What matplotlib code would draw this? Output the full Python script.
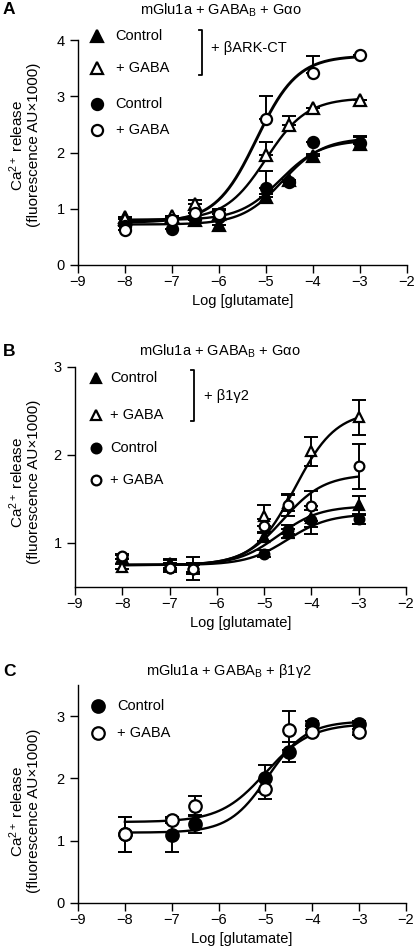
import numpy as np
import matplotlib
matplotlib.use('Agg')
import matplotlib.pyplot as plt

plt.rcParams['font.family'] = ['Liberation Sans', 'DejaVu Sans']
plt.rcParams['mathtext.fontset'] = 'custom'
plt.rcParams['mathtext.rm'] = 'Liberation Sans'
plt.rcParams['mathtext.it'] = 'Liberation Sans:italic'
plt.rcParams['mathtext.bf'] = 'Liberation Sans:bold'

# ---- panel A data (mGlu1a + GABAB + Gao) ----
x_a = [-8, -7, -6.5, -6, -5, -4.5, -4, -3]
a_ctrl_bark = [0.85, 0.86, 0.80, 0.72, 1.21, 1.52, 1.93, 2.16]
a_ctrl_bark_err = [0, 0, 0, 0, 0.05, 0, 0.05, 0.13]
a_gaba_bark = [0.82, 0.87, 1.08, 0.90, 1.96, 2.49, 2.80, 2.93]
a_gaba_bark_err = [0, 0, 0.08, 0.08, 0.23, 0.16, 0, 0]
a_ctrl = [0.70, 0.64, 0.82, 0.85, 1.37, 1.48, 2.18, 2.17]
a_ctrl_err = [0, 0, 0, 0, 0.30, 0, 0, 0.10]
a_gaba = [0.63, 0.80, 0.92, 0.90, 2.60, np.nan, 3.41, 3.73]
a_gaba_err = [0, 0, 0, 0.10, 0.40, 0, 0.30, 0]
# fit params: bottom, top, logEC50, hill
a_fits = {'ctrl_bark': (0.80, 2.22, -4.70, 1.0),
          'gaba_bark': (0.80, 2.97, -5.00, 1.0),
          'ctrl': (0.72, 2.26, -4.65, 1.0),
          'gaba': (0.76, 3.72, -5.20, 1.0)}

# ---- panel B data (mGlu1a + GABAB + Gao, +b1g2) ----
x_b = [-8, -7, -6.5, -5, -4.5, -4, -3]
b_ctrl_bg = [0.84, 0.77, 0.72, 1.07, 1.11, 1.28, 1.43]
b_ctrl_bg_err = [0.02, 0.05, 0.05, 0.05, 0.05, 0.10, 0.10]
b_gaba_bg = [0.73, 0.75, 0.72, 1.31, 1.46, 2.04, 2.43]
b_gaba_bg_err = [0.03, 0.06, 0.05, 0.12, 0.10, 0.17, 0.20]
b_ctrl = [0.84, 0.72, 0.70, 0.88, 1.15, 1.26, 1.27]
b_ctrl_err = [0.02, 0.04, 0.05, 0.04, 0.05, 0.16, 0.05]
b_gaba = [0.85, 0.72, 0.71, 1.19, 1.43, 1.42, 1.87]
b_gaba_err = [0.03, 0.05, 0.13, 0.08, 0.12, 0.17, 0.26]
b_fits = {'ctrl_bg': (0.75, 1.42, -4.70, 1.0),
          'gaba_bg': (0.75, 2.50, -4.35, 1.0),
          'ctrl': (0.75, 1.33, -4.50, 1.0),
          'gaba': (0.75, 1.78, -4.60, 1.0)}

# ---- panel C data (mGlu1a + GABAB + b1g2) ----
x_c = [-8, -7, -6.5, -5, -4.5, -4, -3]
c_ctrl = [1.10, 1.09, 1.27, 2.00, 2.42, 2.88, 2.88]
c_ctrl_err = [0.28, 0.27, 0.14, 0.22, 0.16, 0.04, 0.04]
c_gaba = [1.10, 1.33, 1.56, 1.83, 2.77, 2.75, 2.75]
c_gaba_err = [0.28, 0.05, 0.16, 0.16, 0.32, 0.05, 0.05]
c_fits = {'ctrl': (1.13, 2.92, -4.95, 1.05),
          'gaba': (1.30, 2.88, -5.00, 0.9)}

W, H = 416, 952
FS = 10.5
fig = plt.figure(figsize=(W / 100, H / 100), dpi=100)


def hill(xx, p):
    bottom, top, ec50, n = p
    return bottom + (top - bottom) / (1 + 10 ** ((ec50 - xx) * n))


def make_axes(left, right, top, bottom, ylim, yticks):
    ax = fig.add_axes([left / W, 1 - bottom / H, (right - left) / W, (bottom - top) / H])
    ax.set_xlim(-9, -2)
    ax.set_ylim(*ylim)
    ax.set_xticks(range(-9, -1))
    ax.set_yticks(yticks)
    for s in ['top', 'right']:
        ax.spines[s].set_visible(False)
    for s in ['left', 'bottom']:
        ax.spines[s].set_linewidth(1.0)
    ax.tick_params(axis='both', direction='out', length=5.5, width=1.0, labelsize=FS)
    ax.tick_params(axis='x', pad=1.5)
    ax.tick_params(axis='y', pad=4)
    ax.set_xlabel('Log [glutamate]', fontsize=FS, labelpad=4)
    return ax


xx = np.linspace(-8, -3, 200)


def series(ax, x, y, err, marker, filled, ms, p, lw=1.7, upper_only=False):
    ax.plot(xx, hill(xx, p), color='black', lw=lw, zorder=2)
    err = np.array(err, dtype=float)
    yerr = [np.zeros_like(err), err] if upper_only else err
    ax.errorbar(x, y, yerr=yerr, fmt='none', ecolor='black', elinewidth=1.4,
                capsize=4.8, capthick=1.4, zorder=3)
    ax.plot(x, y, linestyle='none', marker=marker, ms=ms,
            mfc='black' if filled else 'white', mec='black', mew=1.6, zorder=4)


def legend_row(ax, xm, xt, y, marker, filled, ms, label):
    ax.plot([xm], [y], marker=marker, ms=ms, mfc='black' if filled else 'white',
            mec='black', mew=1.6, clip_on=False, linestyle='none')
    ax.text(xt, y, label, fontsize=FS, va='center', ha='left')


def bracket(ax, x, y0, y1, label, ly, dx=0.07):
    ax.plot([x - dx, x, x, x - dx], [y1, y1, y0, y0], color='black', lw=1.3, clip_on=False)
    ax.text(x + 0.2, ly, label, fontsize=FS, va='center', ha='left')


ylab = 'Ca$^{2+}$ release\n(fluorescence AU\u00d71000)'

# ---------- A ----------
axA = make_axes(78, 407, 40, 265, (0, 4), [0, 1, 2, 3, 4])
series(axA, x_a, a_ctrl_bark, a_ctrl_bark_err, '^', True, 8, a_fits['ctrl_bark'], upper_only=True)
series(axA, x_a, a_gaba_bark, a_gaba_bark_err, '^', False, 8, a_fits['gaba_bark'], upper_only=True)
series(axA, x_a, a_ctrl, a_ctrl_err, 'o', True, 8, a_fits['ctrl'], upper_only=True)
series(axA, x_a, a_gaba, a_gaba_err, 'o', False, 8, a_fits['gaba'], lw=2.1, upper_only=True)
legend_row(axA, -8.6, -8.2, 4.08, '^', True, 8, 'Control')
legend_row(axA, -8.6, -8.2, 3.5, '^', False, 8, '+ GABA')
legend_row(axA, -8.6, -8.2, 2.86, 'o', True, 8, 'Control')
legend_row(axA, -8.6, -8.2, 2.4, 'o', False, 8, '+ GABA')
bracket(axA, -6.36, 3.38, 4.18, '+ \u03b2ARK-CT', 3.86)

# ---------- B ----------
axB = make_axes(75, 406, 367, 587, (0.5, 3), [1, 2, 3])
series(axB, x_b, b_ctrl_bg, b_ctrl_bg_err, '^', True, 7, b_fits['ctrl_bg'])
series(axB, x_b, b_gaba_bg, b_gaba_bg_err, '^', False, 7, b_fits['gaba_bg'])
series(axB, x_b, b_ctrl, b_ctrl_err, 'o', True, 7, b_fits['ctrl'])
series(axB, x_b, b_gaba, b_gaba_err, 'o', False, 7, b_fits['gaba'])
legend_row(axB, -8.56, -8.26, 2.875, '^', True, 7, 'Control')
legend_row(axB, -8.56, -8.26, 2.45, '^', False, 7, '+ GABA')
legend_row(axB, -8.56, -8.26, 2.08, 'o', True, 7, 'Control')
legend_row(axB, -8.56, -8.26, 1.72, 'o', False, 7, '+ GABA')
bracket(axB, -6.48, 2.39, 2.97, '+ \u03b21\u03b32', 2.67)

# ---------- C ----------
axC = make_axes(78, 406, 685, 903, (0, 3.5), [0, 1, 2, 3])
series(axC, x_c, c_ctrl, c_ctrl_err, 'o', True, 9, c_fits['ctrl'])
series(axC, x_c, c_gaba, c_gaba_err, 'o', False, 9, c_fits['gaba'])
legend_row(axC, -8.57, -8.17, 3.16, 'o', True, 9, 'Control')
legend_row(axC, -8.57, -8.17, 2.73, 'o', False, 9, '+ GABA')

# titles, panel letters, y labels
titles = ['mGlu1a + GABA$_\\mathregular{B}$ + G\u03b1o',
          'mGlu1a + GABA$_\\mathregular{B}$ + G\u03b1o',
          'mGlu1a + GABA$_\\mathregular{B}$ + \u03b21\u03b32']
title_pos = [(221, 10), (220, 351), (229, 671)]
letters = ['A', 'B', 'C']
letter_y = [10, 352, 672]
ylab_y = [145, 482, 811]
for t, (tx, ty), L, ly, yy in zip(titles, title_pos, letters, letter_y, ylab_y):
    fig.text(tx / W, 1 - ty / H, t, fontsize=FS, ha='center', va='center')
    fig.text(3 / W, 1 - ly / H, L, fontsize=12.5, fontweight='bold', ha='left', va='center')
    fig.text(24 / W, 1 - yy / H, ylab, fontsize=11, rotation=90, ha='center',
             va='center', multialignment='center', linespacing=1.05)

fig.savefig('out.png', dpi=100)
